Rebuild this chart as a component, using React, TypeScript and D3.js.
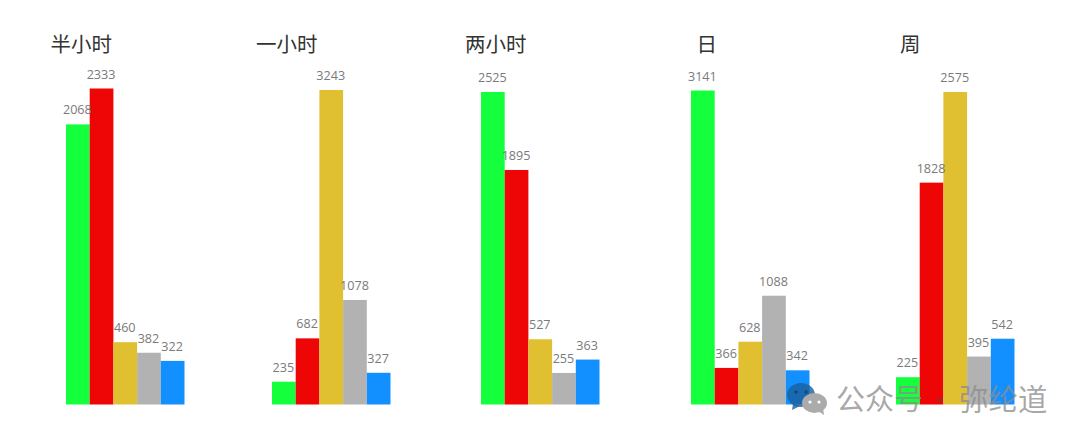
import React from "react";
import * as d3 from "d3";

const titles = ["半小时", "一小时", "两小时", "日", "周"];
const seriesKeys = ["a", "b", "c", "d", "e"];
const colors = ["#14ff3c", "#ee0505", "#e0c030", "#b2b2b2", "#1290ff"];
const halfHour = [2068, 2333, 460, 382, 322];
const oneHour = [235, 682, 3243, 1078, 327];
const twoHour = [2525, 1895, 527, 255, 363];
const day = [3141, 366, 628, 1088, 342];
const week = [225, 1828, 2575, 395, 542];
const panels = [halfHour, oneHour, twoHour, day, week];

const panelLeft = [66, 272, 481, 691, 896];
const panelTop = [88.5, 90, 92, 90.5, 92];
const titleX = [50.5, 256, 465, 696.5, 900];
const baseline = 404.5;
const panelWidth = 118.5;

const labelFont = "'Open Sans', 'Noto Sans', sans-serif";
const cjkFont = "'Noto Sans CJK SC', sans-serif";

function Panel({ i }: { i: number }) {
  const values = panels[i];
  const x = d3.scaleBand<string>().domain(seriesKeys).range([panelLeft[i], panelLeft[i] + panelWidth]);
  const y = d3.scaleLinear().domain([0, d3.max(values) as number]).range([baseline, panelTop[i]]);
  return (
    <g>
      <text x={titleX[i]} y={51.5} fontFamily={cjkFont} fontSize={20.5} fill="#333">{titles[i]}</text>
      {values.map((v, j) => (
        <rect key={j} x={x(seriesKeys[j])} y={y(v)} width={x.bandwidth()} height={baseline - y(v)} fill={colors[j]} />
      ))}
      {values.map((v, j) => (
        <text key={j} x={(x(seriesKeys[j]) as number) + x.bandwidth() / 2 - 0.5} y={y(v) - 10}
          textAnchor="middle" fontFamily={labelFont} fontSize={12.6} fill="#7a7a7a">{v}</text>
      ))}
    </g>
  );
}

export default function App() {
  return (
    <svg width={1080} height={442} style={{ position: "absolute", left: 0, top: 0, background: "#fff" }}>
      {titles.map((_, i) => <Panel key={i} i={i} />)}
      <g>
        <ellipse cx={801} cy={395} rx={14} ry={12} fill="#1c5f9e" fillOpacity={0.8} />
        <path d="M793 404 L792 410 L800 406 Z" fill="#1c5f9e" fillOpacity={0.8} />
        <circle cx={796} cy={392} r={1.7} fill="#14477a" />
        <circle cx={806} cy={392} r={1.7} fill="#14477a" />
        <ellipse cx={814.5} cy={403} rx={12.5} ry={10} fill="#ababab" />
        <path d="M818 411 L824 415 L823 408 Z" fill="#ababab" />
        <circle cx={810} cy={402} r={1.6} fill="#fff" />
        <circle cx={819} cy={402} r={1.6} fill="#fff" />
        <text x={836} y={410} fontFamily={cjkFont} fontSize={29} fill="#8c8c8c" fillOpacity={0.75}>公众号</text>
        <circle cx={940} cy={400} r={2} fill="#8c3030" />
        <text x={959} y={410} fontFamily={cjkFont} fontSize={29.5} fill="#8c8c8c" fillOpacity={0.75}>弥纶道</text>
      </g>
    </svg>
  );
}
